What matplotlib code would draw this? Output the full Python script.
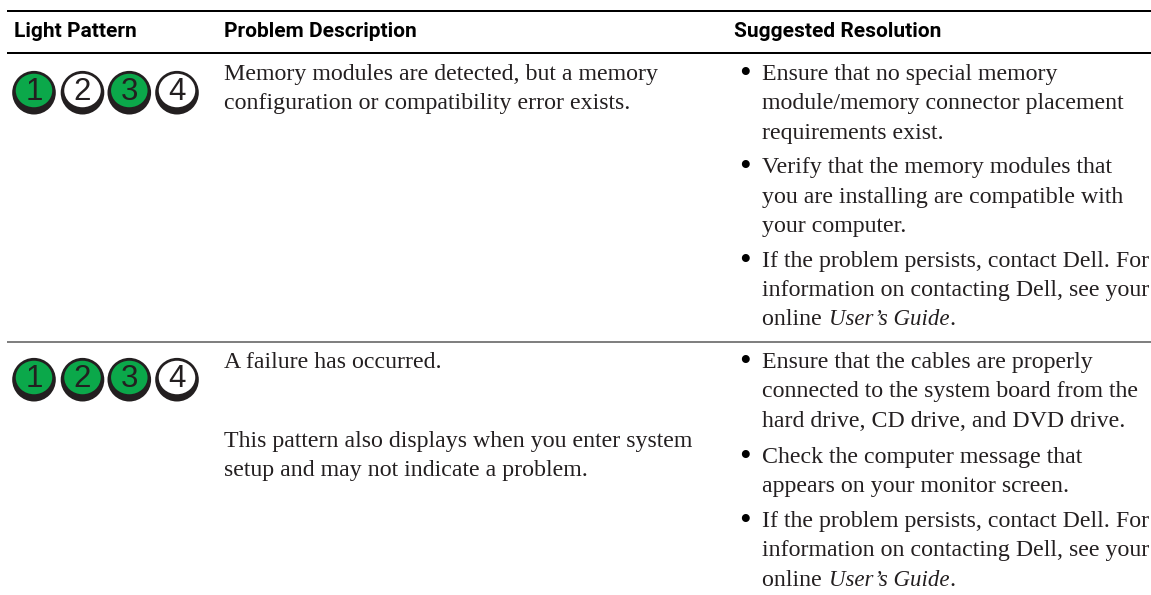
import matplotlib
matplotlib.use("Agg")
import matplotlib.pyplot as plt
from matplotlib.patches import Circle, Ellipse, Rectangle

headers = ["Light Pattern", "Problem Description", "Suggested Resolution"]
row_lights = [[1, 0, 1, 0], [1, 1, 1, 0]]
light_labels = ["1", "2", "3", "4"]

problem_lines = [
    ["Memory modules are detected, but a memory", "configuration or compatibility error exists."],
    ["A failure has occurred.", None, None,
     "This pattern also displays when you enter system", "setup and may not indicate a problem."],
]
# italic bits are split out as (text, italic)
row1_bullets = [
    [[("Ensure that no special memory", 0)],
     [("module/memory connector placement", 0)],
     [("requirements exist.", 0)]],
    [[("Verify that the memory modules that", 0)],
     [("you are installing are compatible with", 0)],
     [("your computer.", 0)]],
    [[("If the problem persists, contact Dell. For", 0)],
     [("information on contacting Dell, see your", 0)],
     [("online ", 0), ("User’s Guide", 1), (".", 0)]],
]
row2_bullets = [
    [[("Ensure that the cables are properly", 0)],
     [("connected to the system board from the", 0)],
     [("hard drive, CD drive, and DVD drive.", 0)]],
    [[("Check the computer message that", 0)],
     [("appears on your monitor screen.", 0)]],
    [[("If the problem persists, contact Dell. For", 0)],
     [("information on contacting Dell, see your", 0)],
     [("online ", 0), ("User’s Guide", 1), (".", 0)]],
]

W, H = 1151, 595
BODY = 17.2
ITALIC = 16.5
SERIF = ["Liberation Serif", "DejaVu Serif"]
GREEN = "#0ba84a"
DARK = "#231f20"

fig = plt.figure(figsize=(W / 100, H / 100), dpi=100)
ax = fig.add_axes([0, 0, 1, 1])
ax.set_xlim(0, W)
ax.set_ylim(H, 0)
ax.axis("off")


def rule(y, h, color):
    ax.add_patch(Rectangle((7, y - h / 2), W - 7, h, color=color, lw=0))


def segments(x, y, parts):
    r = fig.canvas.get_renderer()
    for s, it in parts:
        size = ITALIC if it else BODY
        txt = ax.text(x, y, s, family=SERIF, fontsize=size, color=DARK, va="baseline",
                      style="italic" if it else "normal")
        # trailing spaces dont count in the extent, so measure with a stand-in
        w = ax.text(0, 0, s.replace(" ", "n"), family=SERIF, fontsize=size,
                    style="italic" if it else "normal", alpha=0)
        x += w.get_window_extent(r).width * 0.93 if s.endswith(" ") else txt.get_window_extent(r).width
        w.remove()


def draw_lights(states, y0):
    for st, label, cx in zip(states, light_labels, [34, 82.5, 129.3, 177]):
        ax.add_patch(Circle((cx, y0 + 2.2), 21.8, color=DARK, lw=0))
        ax.add_patch(Ellipse((cx, y0), 36.5, 33.5, color=GREEN if st else "white", lw=0))
        ax.text(cx, y0 + 9.5, label, family=["Liberation Sans"], fontsize=22.5, color=DARK,
                ha="center", va="baseline")


def draw_bullets(items, baselines):
    ys = iter(baselines)
    for item in items:
        for i, parts in enumerate(item):
            y = next(ys)
            if i == 0:
                ax.text(745, y + 3, "•", family=SERIF, fontsize=24, color="black", ha="center", va="baseline")
            segments(762, y, parts)


rule(11, 2.2, "black")
rule(52.8, 2.2, "black")
rule(342, 2, "#808080")

for label, x in zip(headers, [14, 224, 734]):
    ax.text(x, 36.7, label, family=["Roboto", "Liberation Sans"], weight="bold",
            fontsize=15, color="black", va="baseline")

draw_lights(row_lights[0], 90.5)
draw_lights(row_lights[1], 377.5)

for line, y in zip(problem_lines[0], [80, 109]):
    ax.text(224, y, line, family=SERIF, fontsize=BODY, color=DARK, va="baseline")
for line, y in zip(problem_lines[1], [368, 397, 426, 447, 476]):
    if line:
        ax.text(224, y, line, family=SERIF, fontsize=BODY, color=DARK, va="baseline")

draw_bullets(row1_bullets, [80, 109, 139, 173, 203, 232, 267, 296, 325])
draw_bullets(row2_bullets, [368, 397, 427, 463, 492, 527, 556, 586])

fig.savefig("out.png", dpi=100)
